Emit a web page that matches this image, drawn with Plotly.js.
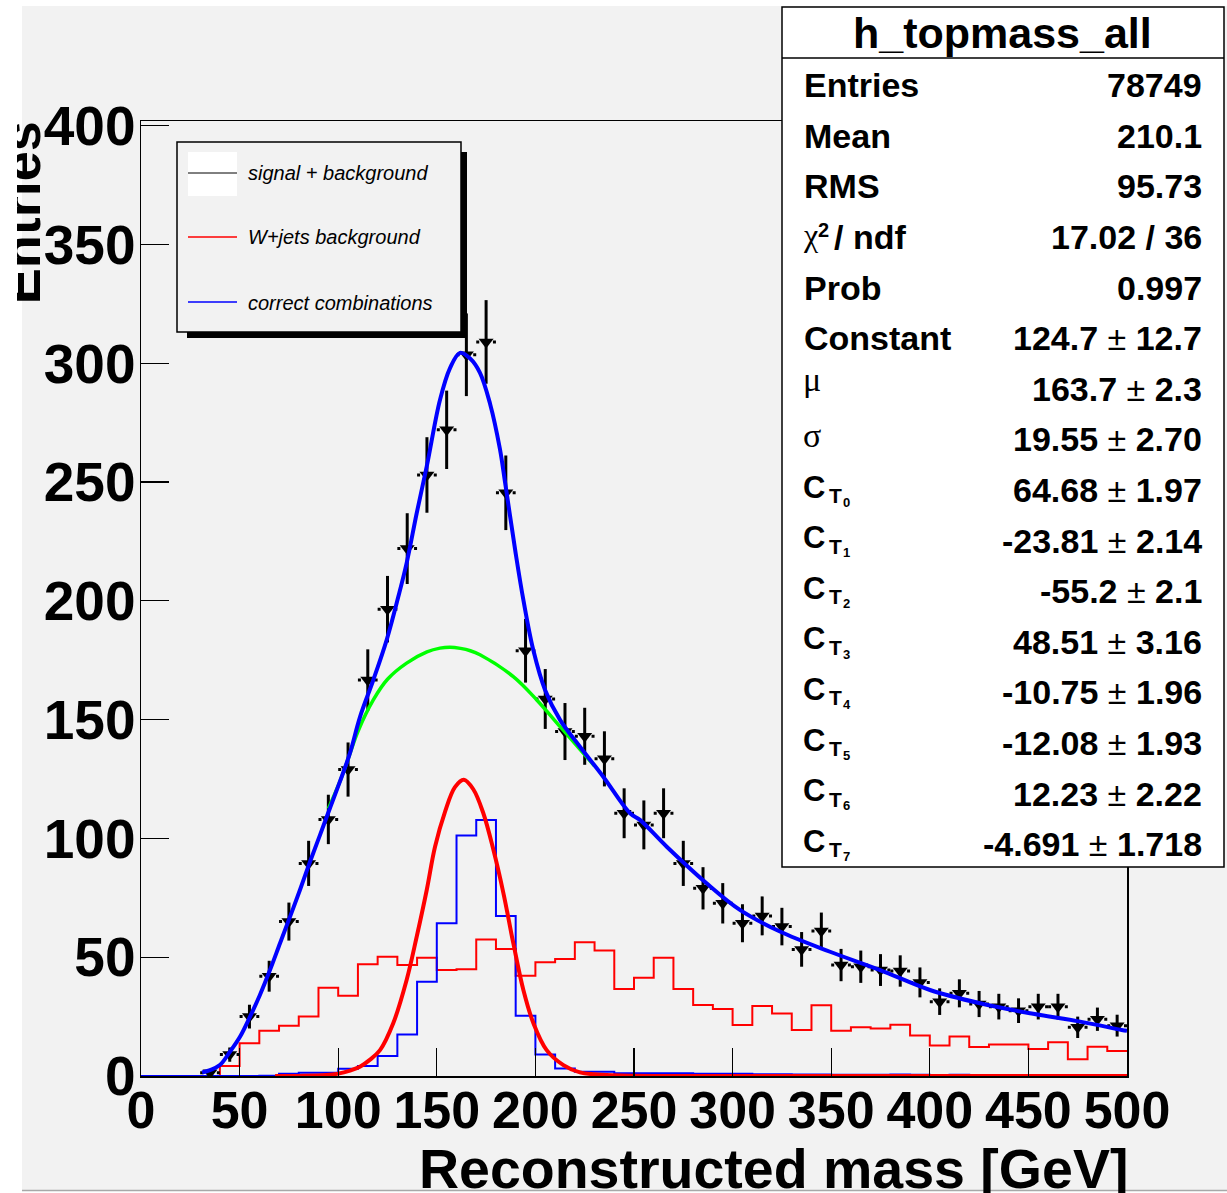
<!DOCTYPE html>
<html>
<head>
<meta charset="utf-8">
<script src="https://cdn.plot.ly/plotly-3.0.1.min.js"></script>
<style>
  html, body { margin:0; padding:0; background:#ffffff; }
  #wrap { position:absolute; left:17px; top:0; width:1210px; height:1193px; overflow:hidden; }
  #plot { position:absolute; left:-17px; top:0; width:1227px; height:1193px; }
</style>
</head>
<body>
<div id="wrap"><div id="plot"></div></div>
<script>
// ---------------- data ----------------
const dataX = [35,45,55,65,75,85,95,105,115,125,135,145,155,165,175,185,195,205,215,225,235,245,255,265,275,285,295,305,315,325,335,345,355,365,375,385,395,405,415,425,435,445,455,465,475,485,495];
const dataY = [1.4,9,25,42,65,89.5,108,129,166.7,196.5,222,253,272,303.6,309,245.5,179,158.7,145,143,133.5,110.6,105.7,110.6,89.5,79,72.7,64.3,67.4,62.9,53.3,61,46.7,46,44.6,44.2,39.4,31.3,34.8,30.3,29.2,27.5,29.2,29.2,20.5,23.9,21.2];
const dataErr = [1.2,3,5,6.5,8,9.5,10.4,11.4,12.9,14,14.9,15.9,16.5,17.4,17.6,15.7,13.4,12.6,12,12,11.6,10.5,10.3,10.5,9.5,8.9,8.5,8,8.2,7.9,7.3,7.8,6.8,6.8,6.7,6.6,6.3,5.6,5.9,5.5,5.4,5.2,5.4,5.4,4.5,4.9,4.6];

const histEdges = [0,10,20,30,40,50,60,70,80,90,100,110,120,130,140,150,160,170,180,190,200,210,220,230,240,250,260,270,280,290,300,310,320,330,340,350,360,370,380,390,400,410,420,430,440,450,460,470,480,490,500];
const wjetsHist = [0,0,0,0,4.2,13.8,19.1,21.2,25,37.2,33.8,47,50.2,46.7,49.8,44.6,44.9,57.5,53.5,42.2,47.9,49.3,56.3,52.8,36.6,41.4,49.8,36.6,29.9,28.2,21.5,29.5,26.3,19.4,29.8,19,20.5,20,21.6,17.1,12.8,16.6,12.2,13.3,13.3,11.4,14.2,7,12.3,10.5];
const correctHist = [0,0,0,0,0,0,0.1,0.9,1.4,1.4,3,4.2,8.4,17.5,39.7,64.3,101.2,107.8,67.4,25.4,9.1,3.2,1.8,1.8,1.2,1.2,1.2,1.2,0.9,0.9,0.9,0.7,0.7,0.6,0.6,0.5,0.5,0.5,0.6,0.5,0.4,0.5,0.4,0.4,0.3,0.4,0.3,0.3,0.3,0.3];

// total fit (blue curve)
const fitX = [31,35,40,45.1,50.2,55.3,60.3,65.4,70.5,75.6,80.6,85.7,90.8,95.8,100.9,106,111,117.8,124.6,130.5,134.7,139.8,144.9,151.6,156.7,161.8,166.9,171.9,177,182,184.6,187.1,190,193.9,198.9,204.9,212.5,222.6,234.4,248,253,266.6,286.8,303.7,324,349.4,374.8,400.1,425.5,450.8,476.2,497.3,500];
const fitY = [1.5,2.5,4.6,10.2,16.5,25,34.1,44.6,55.9,67.1,78.3,90.2,101.5,112.7,124,136,151,166.7,183.6,201.8,215.9,236.9,256.6,284.6,298,304.4,302,296,283,264,250,236,220,200.4,179.4,162.5,149.9,138.6,126,110.6,107.8,96.5,81.1,69.9,60.8,52.3,44.6,36.2,30.6,26.4,22.9,19.4,19];
// background part (green curve)
const bkgX = [95,100.9,104.3,110,117.8,125,134.7,145,151.6,156.7,162,167,171.9,188.8,200.7,212.5,222.6,230];
const bkgY = [112.5,124,131.7,145,158.3,167,173.8,178.5,180.1,180.5,180,179,177.3,168.1,158.3,147.1,137.5,130.5];
// gaussian part (red curve)
const gausX = [68,80,94,100,106,111,116,121.2,127.9,134.7,139.8,144.9,149.1,154.2,159.2,163.7,168.5,173.6,178.7,183.8,188.8,193.9,199,205.7,214.2,222.6,230,239.5,260,300,400,500];
const gausY = [0,0.05,0.4,1.0,2.3,3.9,6.8,10.9,22.2,40.4,58.6,78.3,96.5,111.3,121.6,124.7,120.7,110.6,95.2,76.9,55.9,36.2,22.2,10.9,4.6,1.5,0.7,0.3,0,0,0,0];

const xTicks = [0,50,100,150,200,250,300,350,400,450,500];
const yTicks = [0,50,100,150,200,250,300,350,400];

const legendLabels = ['signal + background','W+jets background','correct combinations'];
const statTitle = 'h_topmass_all';
const statNames = ['Entries','Mean','RMS','chi2','Prob','Constant','μ','σ','CT0','CT1','CT2','CT3','CT4','CT5','CT6','CT7'];
const statValues = ['78749','210.1','95.73','17.02 / 36','0.997','124.7 ± 12.7','163.7 ± 2.3','19.55 ± 2.70','64.68 ± 1.97','-23.81 ± 2.14','-55.2 ± 2.1','48.51 ± 3.16','-10.75 ± 1.96','-12.08 ± 1.93','12.23 ± 2.22','-4.691 ± 1.718'];
const xTitle = 'Reconstructed mass [GeV]';
const yTitle = 'Entries';

// ---------------- layout helpers ----------------
const W = 1227, H = 1193;
const PL = 141, PR = 1127, PT = 121, PB = 1076;
const FONT = 'Liberation Sans, Arial, Helvetica, sans-serif';
const SERIF = 'Liberation Serif, Times New Roman, serif';
function xp(px){ return (px - PL) / (PR - PL); }
function yp(py){ return (PB - py) / (PB - PT); }
function rect(x0,y0,x1,y1,fill,lc,lw,layer){
  return {type:'rect', xref:'paper', yref:'paper', x0:xp(x0), x1:xp(x1), y0:yp(y1), y1:yp(y0),
          fillcolor:fill, line:{color:lc||'rgba(0,0,0,0)', width:lw||0}, layer:layer||'above'};
}
function seg(x0,y0,x1,y1,color,w,layer){
  return {type:'line', xref:'paper', yref:'paper', x0:xp(x0), x1:xp(x1), y0:yp(y0), y1:yp(y1),
          line:{color:color, width:w}, layer:layer||'above'};
}
function txt(text, px, baseline, size, anchor, weight, style, family){
  return {xref:'paper', yref:'paper', x:xp(px), y:yp(baseline - 0.3465*size),
          xanchor:anchor, yanchor:'middle', text:text, showarrow:false, borderpad:0, borderwidth:0,
          font:{family:family||FONT, size:size, color:'#000', weight:weight||'normal', style:style||'normal'}};
}

// ---------------- traces ----------------
function stepY(v){ return v.concat([v[v.length-1]]); }
const hx = [], hy = [];
dataX.forEach(function(c,i){ hx.push(c-5, c+5, null); hy.push(dataY[i], dataY[i], null); });

const traces = [
  {x:histEdges, y:stepY(wjetsHist), mode:'lines', line:{shape:'hv', color:'#ff0000', width:2}, hoverinfo:'skip'},
  {x:histEdges, y:stepY(correctHist), mode:'lines', line:{shape:'hv', color:'#0000ff', width:2}, hoverinfo:'skip'},
  {x:hx, y:hy, mode:'lines', line:{color:'#000', width:3, dash:'3px,13.7px,3px'}, connectgaps:false, hoverinfo:'skip'},
  {x:dataX, y:dataY, mode:'markers', marker:{symbol:'triangle-down', size:13, color:'#000'},
   error_y:{type:'data', array:dataErr, visible:true, thickness:3, width:0, color:'#000'}},
  {x:bkgX, y:bkgY, mode:'lines', line:{shape:'spline', color:'#00ff00', width:3.5}, hoverinfo:'skip'},
  {x:fitX, y:fitY, mode:'lines', line:{shape:'spline', color:'#0000ff', width:4}, hoverinfo:'skip'},
  {x:gausX, y:gausY, mode:'lines', line:{shape:'spline', color:'#ff0000', width:4}, hoverinfo:'skip'}
];

// ---------------- shapes ----------------
const shapes = [
  rect(-30,-10,22,1200,'#ffffff',null,0,'below'),
  rect(-30,-10,1240,6,'#ffffff',null,0,'below'),
  rect(-30,1191,1240,1210,'#ffffff',null,0,'below'),
  seg(22,1190.5,1240,1190.5,'#a8a8a8',1.5,'below'),
  // legend
  rect(187,152,467,338,'#000000',null,0),
  rect(177,142,461,332,'#f2f2f2','#000000',1.5),
  rect(188,152,237,196,'#ffffff',null,0),
  seg(188,173,237,173,'#000000',1),
  seg(188,237,237,237,'#ff0000',1.5),
  seg(188,302,237,302,'#0000ff',1.5),
  // stats box
  rect(782,7,1224,867,'#ffffff','#000000',1.5),
  seg(782,58,1224,58,'#000000',1.5)
];

// ---------------- annotations ----------------
const ann = [];
ann.push(txt(legendLabels[0], 248, 180, 20, 'left', 'normal', 'italic'));
ann.push(txt(legendLabels[1], 248, 244, 20, 'left', 'normal', 'italic'));
ann.push(txt(legendLabels[2], 248, 310, 20, 'left', 'normal', 'italic'));

ann.push(txt(statTitle, 1002, 48, 43, 'center', 'bold'));
statNames.forEach(function(name, i){
  const b = 97 + 50.6*i;
  if (name === 'chi2') {
    ann.push(txt('χ', 803, b-3, 32, 'left', 'normal', 'normal', SERIF));
    ann.push(txt('2', 818, b-12, 20, 'left', 'bold'));
    ann.push(txt('/ ndf', 834, b, 34, 'left', 'bold'));
  } else if (name === 'μ' || name === 'σ') {
    ann.push(txt(name, 803, name === 'μ' ? b-9 : b-4, 34, 'left', 'normal', 'normal', SERIF));
  } else if (name.indexOf('CT') === 0) {
    ann.push(txt('C', 803, b-4, 31, 'left', 'bold'));
    ann.push(txt('T', 829, b+1, 21, 'left', 'bold'));
    ann.push(txt(name.slice(2), 843, b+5, 13, 'left', 'bold'));
  } else {
    ann.push(txt(name, 804, b, 34, 'left', 'bold'));
  }
  const v = statValues[i];
  let t;
  if (v.indexOf(' ± ') >= 0) {
    const p = v.split(' ± ');
    t = '<b>' + p[0] + '</b> ± <b>' + p[1] + '</b>';
  } else {
    t = '<b>' + v + '</b>';
  }
  ann.push(txt(t, 1202, b, 34, 'right', 'normal'));
});

// axis titles
ann.push(txt(xTitle, 1128, 1188, 55.5, 'right', 'bold'));
ann.push({xref:'paper', yref:'paper', x:xp(21.3), y:yp(213), xanchor:'center', yanchor:'middle',
  text:yTitle, textangle:-90, showarrow:false, borderpad:0, borderwidth:0,
  font:{family:FONT, size:54, color:'#000', weight:'bold'}});

// ---------------- layout ----------------
const axisCommon = {
  showgrid:false, zeroline:false, showline:true, linecolor:'#000', linewidth:1.5, mirror:true,
  ticks:'inside', ticklen:28, tickwidth:1.2, tickcolor:'#000', tickmode:'array', tickangle:0,
  fixedrange:true
};
const layout = {
  width:W, height:H, showlegend:false,
  paper_bgcolor:'#f2f2f2', plot_bgcolor:'#f2f2f2',
  margin:{l:PL, r:W-PR, t:PT, b:H-PB, pad:0},
  xaxis:Object.assign({}, axisCommon, {range:[0,500], tickvals:xTicks, ticktext:xTicks.map(String), ticklabelstandoff:-12,
    tickfont:{family:FONT, size:52, color:'#000', weight:'bold'}}),
  yaxis:Object.assign({}, axisCommon, {range:[0,402], tickvals:yTicks, ticktext:yTicks.map(String), ticklabelstandoff:-7,
    tickfont:{family:FONT, size:55, color:'#000', weight:'bold'}}),
  shapes:shapes, annotations:ann
};
Plotly.newPlot('plot', traces, layout, {staticPlot:true, displayModeBar:false});
</script>
</body>
</html>
